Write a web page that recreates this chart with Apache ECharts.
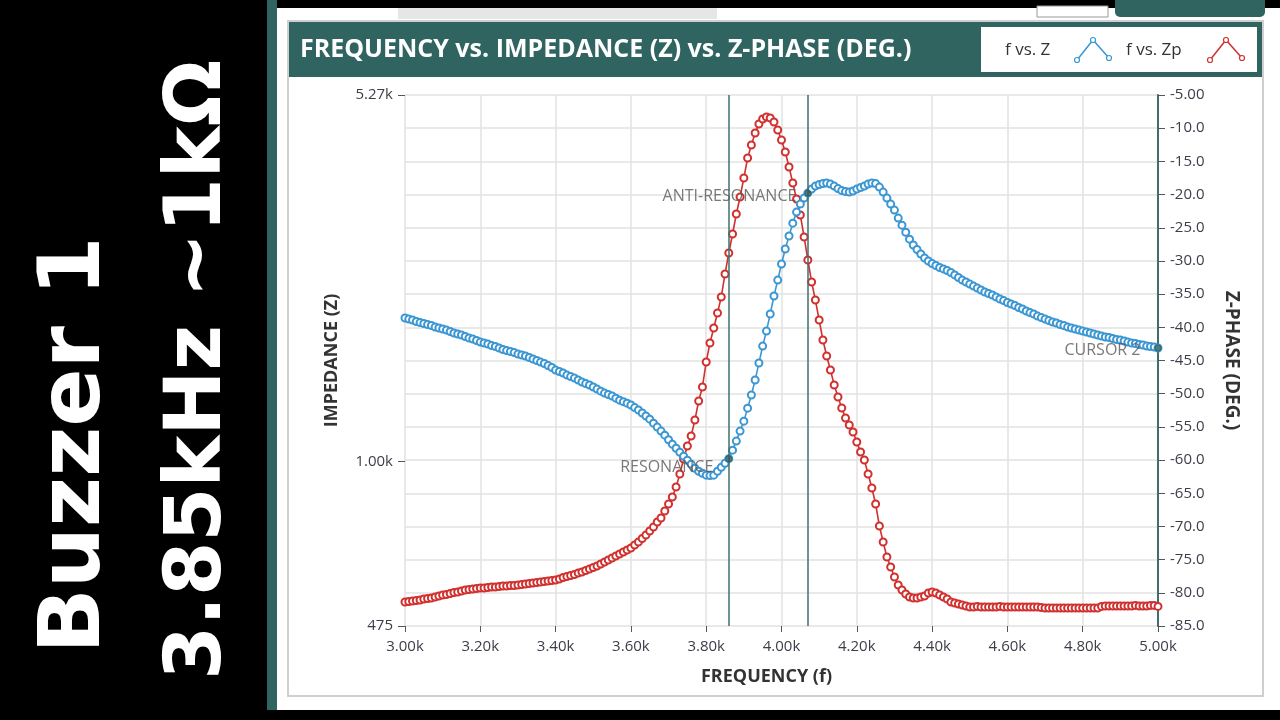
<!doctype html>
<html>
<head>
	<meta charset="utf-8">
	<title>Frequency vs. Impedance (Z) vs. Z-Phase</title>
	<style>
		html, body { margin: 0; padding: 0; background: #000; }
		#chart { width: 1280px; height: 720px; }
	</style>
</head>
<body>
	<div id="chart"></div>
	<script src="https://cdn.jsdelivr.net/npm/echarts@6/dist/echarts.min.js"></script>
	<script>
		// sweep: 3.00k .. 5.00k in 10 Hz steps
		const fStart = 3000;
		const fStep = 10;

		// |Z| in ohms, one value per sweep step
		const impedance = [
			1918, 1909, 1901, 1888, 1879, 1871, 1862, 1854, 1841, 1833,
			1825, 1816, 1804, 1792, 1784, 1776, 1764, 1752, 1744, 1732,
			1720, 1713, 1705, 1693, 1686, 1674, 1663, 1655, 1648, 1640,
			1629, 1622, 1615, 1604, 1593, 1582, 1571, 1561, 1547, 1533,
			1515, 1505, 1495, 1481, 1471, 1461, 1448, 1435, 1425, 1416,
			1403, 1390, 1377, 1365, 1356, 1347, 1334, 1322, 1313, 1304,
			1293, 1278, 1264, 1247, 1230, 1213, 1191, 1170, 1149, 1128,
			1105, 1083, 1063, 1044, 1025, 1007, 989, 971, 958, 949,
			941, 939, 941, 958, 975, 993, 1014, 1054, 1098, 1149,
			1202, 1275, 1353, 1448, 1564, 1689, 1808, 1953, 2119, 2278,
			2450, 2622, 2781, 2948, 3100, 3214, 3303, 3379, 3441, 3488,
			3511, 3527, 3535, 3519, 3488, 3448, 3417, 3402, 3394, 3410,
			3441, 3464, 3488, 3519, 3535, 3527, 3472, 3394, 3303, 3214,
			3128, 3017, 2922, 2830, 2742, 2670, 2616, 2564, 2518, 2484,
			2456, 2434, 2412, 2396, 2379, 2358, 2332, 2305, 2278, 2258,
			2237, 2217, 2197, 2178, 2158, 2143, 2129, 2110, 2091, 2076,
			2058, 2044, 2030, 2012, 1998, 1980, 1966, 1953, 1935, 1922,
			1909, 1896, 1884, 1875, 1862, 1854, 1841, 1833, 1825, 1816,
			1808, 1800, 1792, 1784, 1776, 1768, 1760, 1756, 1748, 1740,
			1736, 1728, 1720, 1713, 1709, 1701, 1697, 1689, 1686, 1682,
			1674
		];

		// Z-phase in degrees, same steps
		const zPhase = [
			-81.38, -81.31, -81.23, -81.16, -81.08, -80.93, -80.86, -80.78, -80.63, -80.48,
			-80.33, -80.25, -80.10, -79.95, -79.88, -79.73, -79.58, -79.50, -79.43, -79.35,
			-79.28, -79.28, -79.20, -79.12, -79.12, -79.05, -78.97, -78.97, -78.90, -78.90,
			-78.82, -78.75, -78.67, -78.60, -78.52, -78.45, -78.37, -78.30, -78.22, -78.15,
			-78.07, -77.92, -77.69, -77.54, -77.39, -77.24, -77.02, -76.86, -76.64, -76.41,
			-76.19, -75.96, -75.66, -75.36, -75.06, -74.76, -74.45, -74.15, -73.85, -73.55,
			-73.25, -72.80, -72.34, -71.82, -71.29, -70.69, -70.09, -69.33, -68.73, -67.67,
			-66.62, -65.56, -64.06, -62.10, -59.84, -57.88, -56.37, -53.96, -51.10, -48.99,
			-45.22, -42.36, -40.10, -37.84, -35.43, -31.96, -28.80, -25.94, -22.93, -20.37,
			-17.50, -14.49, -12.53, -10.73, -9.37, -8.62, -8.31, -8.47, -9.07, -10.27,
			-11.78, -13.59, -15.85, -18.26, -20.67, -23.08, -26.39, -29.86, -33.17, -35.89,
			-38.90, -41.91, -44.32, -46.43, -48.69, -50.50, -52.16, -53.66, -54.72, -55.77,
			-57.28, -58.79, -59.99, -62.10, -64.21, -66.62, -69.93, -72.34, -74.60, -76.11,
			-77.62, -78.82, -79.58, -80.18, -80.63, -80.78, -80.78, -80.63, -80.48, -80.03,
			-79.88, -80.03, -80.33, -80.63, -80.93, -81.38, -81.53, -81.68, -81.83, -81.98,
			-82.13, -82.13, -82.05, -82.13, -82.13, -82.13, -82.13, -82.13, -82.05, -82.13,
			-82.13, -82.13, -82.13, -82.13, -82.13, -82.13, -82.13, -82.13, -82.13, -82.21,
			-82.29, -82.29, -82.29, -82.29, -82.29, -82.29, -82.29, -82.29, -82.29, -82.29,
			-82.29, -82.29, -82.29, -82.29, -82.29, -82.05, -81.98, -81.98, -81.98, -81.98,
			-81.98, -81.98, -81.98, -81.98, -81.90, -81.98, -81.98, -81.98, -81.90, -81.90,
			-82.05
		];

		const cursorFreqs = [3860, 4070, 5000];
		const cursorNames = ["RESONANCE", "ANTI-RESONANCE", "CURSOR 2"];

		const zMin = 475, zMax = 5270;
		const phaseMin = -85, phaseMax = -5;

		const titleText = "FREQUENCY vs. IMPEDANCE (Z) vs. Z-PHASE (DEG.)";
		const noteLine1 = "Buzzer 1";
		const noteLine2 = "3.85kHz ~1kΩ";

		const freqs = impedance.map((v, i) => fStart + i * fStep);
		const zData = freqs.map((f, i) => [f, impedance[i]]);
		const pData = freqs.map((f, i) => [f, zPhase[i]]);
		const cursorData = cursorFreqs.map((f, k) => ({
			name: cursorNames[k],
			value: [f, impedance[freqs.indexOf(f)]]
		}));

		const teal = "#2f6461";
		const cursorTeal = "#3f6f6c";
		const blue = "#3b97d3";
		const red = "#d0312f";
		const labelCol = "#3d3d4a";
		const font = "Open Sans";

		const kFmt = v => (v / 1000).toFixed(2) + "k";

		let chart = echarts.init(document.getElementById("chart"), null, { width: 1280, height: 720 });

		let opts = {
			animation: false,
			backgroundColor: "#000",
			textStyle: { fontFamily: font },
			grid: { left: 405, right: 122, top: 95, bottom: 94, containLabel: false },
			xAxis: {
				type: "value",
				min: 3000,
				max: 5000,
				interval: 200,
				name: "FREQUENCY (f)",
				nameLocation: "middle",
				nameGap: 42,
				nameTextStyle: { fontFamily: font, fontWeight: "bold", fontSize: 18, color: "#333", padding: [0, 30, 0, 0] },
				axisLine: { show: false },
				axisTick: { show: true, length: 6, lineStyle: { color: "#555" } },
				axisLabel: { formatter: kFmt, fontSize: 15, color: labelCol, margin: 13 },
				splitLine: { show: true, lineStyle: { color: "#e2e2e2", width: 1.5 } }
			},
			yAxis: [
				{
					type: "log",
					min: zMin,
					max: zMax,
					position: "left",
					name: "IMPEDANCE (Z)",
					nameLocation: "middle",
					nameRotate: 90,
					nameGap: 64,
					nameTextStyle: { fontFamily: font, fontWeight: "bold", fontSize: 18, color: "#333" },
					axisLine: { show: false },
					axisTick: { show: true, length: 7, lineStyle: { color: "#555" } },
					axisLabel: {
						formatter: v => v >= 999 ? kFmt(v) : String(Math.round(v)),
						fontSize: 15, color: labelCol, margin: 12
					},
					splitLine: { show: false }
				},
				{
					type: "value",
					min: phaseMin,
					max: phaseMax,
					interval: 5,
					position: "right",
					name: "Z-PHASE (DEG.)",
					nameLocation: "middle",
					nameRotate: -90,
					nameGap: 64,
					nameTextStyle: { fontFamily: font, fontWeight: "bold", fontSize: 19, color: "#333" },
					axisLine: { show: true, lineStyle: { color: cursorTeal, width: 2 } },
					axisTick: { show: true, length: 7, lineStyle: { color: "#555" } },
					axisLabel: {
						formatter: v => v.toPrecision(3),
						fontSize: 15, color: labelCol, margin: 12
					},
					splitLine: { show: true, lineStyle: { color: "#e2e2e2", width: 1.5 } }
				}
			],
			series: [
				{
					name: "f vs. Zp",
					type: "line",
					yAxisIndex: 1,
					data: pData,
					symbol: "emptyCircle",
					symbolSize: 7,
					lineStyle: { color: red, width: 1.6 },
					itemStyle: { color: red, borderWidth: 1.4 },
					z: 3
				},
				{
					name: "f vs. Z",
					type: "line",
					yAxisIndex: 0,
					data: zData,
					symbol: "emptyCircle",
					symbolSize: 7,
					lineStyle: { color: blue, width: 1.6 },
					itemStyle: { color: blue, borderWidth: 1.4 },
					z: 4,
					markLine: {
						silent: true,
						symbol: ["none", "none"],
						label: { show: false },
						lineStyle: { color: cursorTeal, width: 1.5, type: "solid" },
						data: cursorFreqs.slice(0, 2).map(f => ({ xAxis: f }))
					}
				},
				{
					name: "cursors",
					type: "scatter",
					yAxisIndex: 0,
					data: cursorData,
					symbol: "circle",
					symbolSize: 7,
					itemStyle: { color: "#2a5a56" },
					z: 6,
					label: {
						show: true,
						position: "left",
						formatter: p => p.name,
						fontFamily: font,
						fontSize: 16,
						color: "#585858",
						distance: 8
					},
					labelLayout: p => {
						const d = [[-4, 9], [0, 3], [-6, 2]][p.dataIndex];
						return { dx: d[0], dy: d[1] };
					}
				}
			],
			graphic: [
				// app panel
				{ type: "rect", z: -20, shape: { x: 267, y: 0, width: 10, height: 710 }, style: { fill: teal } },
				{ type: "rect", z: -20, shape: { x: 277, y: 8, width: 1003, height: 702 }, style: { fill: "#fff" } },
				{ type: "rect", z: -19, shape: { x: 398, y: 8, width: 319, height: 11 }, style: { fill: "#e6e6e6" } },
				{ type: "rect", z: -19, shape: { x: 1037, y: 6, width: 71, height: 11 }, style: { fill: "#fff", stroke: "#999", lineWidth: 1 } },
				{ type: "rect", z: -19, shape: { x: 1115, y: 0, width: 150, height: 17, r: [0, 0, 5, 5] }, style: { fill: teal } },
				{ type: "rect", z: -19, shape: { x: 288, y: 21, width: 975, height: 675 }, style: { fill: "#fff", stroke: "#cfcfcf", lineWidth: 2 } },
				// header band
				{ type: "rect", z: -18, shape: { x: 289, y: 22, width: 973, height: 55 }, style: { fill: teal } },
				{ type: "text", z: -17, x: 300, y: 50, style: { text: titleText, fill: "#fff", font: "bold 25px 'Open Sans'", verticalAlign: "middle" } },
				// legend
				{ type: "rect", z: -17, shape: { x: 981, y: 27, width: 276, height: 45 }, style: { fill: "#fff" } },
				{ type: "text", z: -16, x: 1005, y: 50, style: { text: "f vs. Z", fill: "#333", font: "17px 'Open Sans'", verticalAlign: "middle" } },
				{ type: "polyline", z: -16, shape: { points: [[1077, 60], [1093, 40], [1109, 58]] }, style: { stroke: blue, lineWidth: 1.5, fill: null } },
				{ type: "circle", z: -15, shape: { cx: 1077, cy: 60, r: 2.5 }, style: { stroke: blue, fill: "#fff", lineWidth: 1.2 } },
				{ type: "circle", z: -15, shape: { cx: 1093, cy: 40, r: 2.5 }, style: { stroke: blue, fill: "#fff", lineWidth: 1.2 } },
				{ type: "circle", z: -15, shape: { cx: 1109, cy: 58, r: 2.5 }, style: { stroke: blue, fill: "#fff", lineWidth: 1.2 } },
				{ type: "text", z: -16, x: 1126, y: 50, style: { text: "f vs. Zp", fill: "#333", font: "17px 'Open Sans'", verticalAlign: "middle" } },
				{ type: "polyline", z: -16, shape: { points: [[1210, 60], [1226, 40], [1242, 58]] }, style: { stroke: red, lineWidth: 1.5, fill: null } },
				{ type: "circle", z: -15, shape: { cx: 1210, cy: 60, r: 2.5 }, style: { stroke: red, fill: "#fff", lineWidth: 1.2 } },
				{ type: "circle", z: -15, shape: { cx: 1226, cy: 40, r: 2.5 }, style: { stroke: red, fill: "#fff", lineWidth: 1.2 } },
				{ type: "circle", z: -15, shape: { cx: 1242, cy: 58, r: 2.5 }, style: { stroke: red, fill: "#fff", lineWidth: 1.2 } },
				// handwritten note on the left
				{ type: "text", z: -16, x: 77, y: 445, rotation: Math.PI / 2, style: { text: noteLine1, fill: "#fff", font: "bold 86px 'DejaVu Sans'", align: "center", verticalAlign: "middle" } },
				{ type: "text", z: -16, x: 200, y: 370, rotation: Math.PI / 2, style: { text: noteLine2, fill: "#fff", font: "bold 78px 'DejaVu Sans'", align: "center", verticalAlign: "middle" } }
			]
		};

		chart.setOption(opts);
	</script>
</body>
</html>
